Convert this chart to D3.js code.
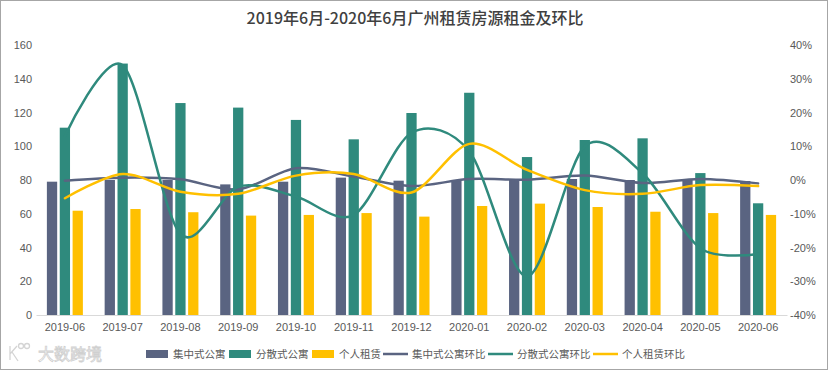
<!DOCTYPE html>
<html>
<head>
<meta charset="utf-8">
<script src="https://cdn.jsdelivr.net/npm/d3@7"></script>
<style>
  body { margin: 0; background: #fff; }
  svg { display: block; font-family: "Noto Sans CJK SC", "Noto Sans", sans-serif; }
</style>
</head>
<body>
<div id="chart"></div>
<script>
// months on the x axis
const months = ["2019-06", "2019-07", "2019-08", "2019-09", "2019-10", "2019-11", "2019-12",
                "2020-01", "2020-02", "2020-03", "2020-04", "2020-05", "2020-06"];

// rent (bars, left axis)
const jizhong = [79, 80, 80, 77.4, 79, 81.4, 79.6, 79.5, 80, 80.6, 80, 80.2, 79.4];
const fensan  = [111, 149, 125.6, 122.9, 115.6, 104.1, 119.7, 131.7, 93.6, 103.7, 104.7, 84.1, 66.2];
const geren   = [61.8, 62.8, 60.9, 58.9, 59.3, 60.4, 58.3, 64.6, 66, 64, 61.2, 60.4, 59.3];

// month-on-month change, % (lines, right axis)
const jizhongMoM = [-0.2, 0.7, 0.2, -2.8, 3.5, 1, -1.8, 0.3, 0.1, 1.3, -0.9, 0.3, -1];
const fensanMoM  = [13, 34, -16, -2, -4.9, -10.4, 14, 8.5, -28.6, 10, 2, -20.2, -21.9];
const gerenMoM   = [-5.4, 1.8, -3.5, -4.1, 1.3, 1.8, -3.7, 10.7, 3, -3, -4.1, -1.5, -1.8];

const leftTicks = [0, 20, 40, 60, 80, 100, 120, 140, 160];
const rightTicks = [-40, -30, -20, -10, 0, 10, 20, 30, 40];

const barSeries = [
  { name: "集中式公寓", values: jizhong, color: "#5a6481" },
  { name: "分散式公寓", values: fensan, color: "#2f8a7d" },
  { name: "个人租赁", values: geren, color: "#ffc000" }
];
const lineSeries = [
  { name: "集中式公寓环比", values: jizhongMoM, color: "#5a6481" },
  { name: "分散式公寓环比", values: fensanMoM, color: "#2f8a7d" },
  { name: "个人租赁环比", values: gerenMoM, color: "#ffc000" }
];

const width = 830, height = 372;
const margin = { top: 45, right: 43, bottom: 57, left: 36 };

const svg = d3.select("#chart").append("svg")
  .attr("width", width)
  .attr("height", height);

// frame
svg.append("rect")
  .attr("x", 0.5).attr("y", 0.5)
  .attr("width", width - 3).attr("height", height - 3)
  .attr("fill", "#fff")
  .attr("stroke", "#a6a6a6");

// title
svg.append("text")
  .attr("x", 415).attr("y", 24)
  .attr("text-anchor", "middle")
  .attr("font-size", 16)
  .attr("font-weight", 500)
  .attr("fill", "#404040")
  .text("2019年6月-2020年6月广州租赁房源租金及环比");

const x0 = d3.scaleBand()
  .domain(months)
  .range([margin.left, width - margin.right]);

const x1 = d3.scaleBand()
  .domain(barSeries.map(d => d.name))
  .range([-18, 18])
  .paddingInner(0.2);

const yLeft = d3.scaleLinear().domain([0, 160]).range([height - margin.bottom, margin.top]);
const yRight = d3.scaleLinear().domain([-40, 40]).range([height - margin.bottom, margin.top]);

// left axis
const leftAxis = svg.append("g")
  .attr("transform", `translate(${margin.left - 4},0)`)
  .call(d3.axisLeft(yLeft).tickValues(leftTicks).tickSize(0).tickPadding(0));
leftAxis.select(".domain").remove();
leftAxis.selectAll("text")
  .attr("text-anchor", "end")
  .attr("font-size", 11)
  .attr("fill", "#595959");

// right axis
const rightAxis = svg.append("g")
  .attr("transform", `translate(${width - margin.right + 3},0)`)
  .call(d3.axisRight(yRight).tickValues(rightTicks).tickFormat(d => d + "%").tickSize(0).tickPadding(0));
rightAxis.select(".domain").remove();
rightAxis.selectAll("text")
  .attr("font-size", 11)
  .attr("fill", "#595959");

// bottom axis
const bottomAxis = svg.append("g")
  .attr("transform", `translate(0,${height - margin.bottom})`)
  .call(d3.axisBottom(x0).tickSize(0).tickPadding(8));
bottomAxis.select(".domain").attr("stroke", "#d9d9d9");
bottomAxis.selectAll("text")
  .attr("font-size", 11)
  .attr("fill", "#595959");

// bars
barSeries.forEach(s => {
  svg.append("g").selectAll("rect")
    .data(months)
    .join("rect")
    .attr("x", (m, i) => x0(m) + x0.bandwidth() / 2 + x1(s.name))
    .attr("width", x1.bandwidth())
    .attr("y", (m, i) => yLeft(s.values[i]))
    .attr("height", (m, i) => yLeft(0) - yLeft(s.values[i]))
    .attr("fill", s.color);
});

// smoothed lines
const line = d3.line()
  .x((d, i) => x0(months[i]) + x0.bandwidth() / 2)
  .y(d => yRight(d))
  .curve(d3.curveCardinal.tension(0.1));

lineSeries.forEach(s => {
  svg.append("path")
    .datum(s.values)
    .attr("d", line)
    .attr("fill", "none")
    .attr("stroke", s.color)
    .attr("stroke-width", 2.5)
    .attr("stroke-linecap", "round");
});

// legend
const legendItems = [
  { s: barSeries[0], x: 146, type: "bar" },
  { s: barSeries[1], x: 229, type: "bar" },
  { s: barSeries[2], x: 312, type: "bar" },
  { s: lineSeries[0], x: 383, type: "line" },
  { s: lineSeries[1], x: 488, type: "line" },
  { s: lineSeries[2], x: 593, type: "line" }
];
const legendY = 354;
const legend = svg.append("g");
legendItems.forEach(it => {
  if (it.type === "bar") {
    legend.append("rect")
      .attr("x", it.x).attr("y", legendY - 4)
      .attr("width", 22).attr("height", 8)
      .attr("fill", it.s.color);
  } else {
    legend.append("line")
      .attr("x1", it.x).attr("x2", it.x + 25)
      .attr("y1", legendY).attr("y2", legendY)
      .attr("stroke", it.s.color)
      .attr("stroke-width", 2.5);
  }
  legend.append("text")
    .attr("x", it.x + (it.type === "bar" ? 27 : 29))
    .attr("y", legendY)
    .attr("dy", "0.35em")
    .attr("font-size", 10.5)
    .attr("fill", "#595959")
    .text(it.s.name);
});

// watermark
const wm = svg.append("g").attr("fill", "none").attr("stroke", "#d4d4d4").attr("stroke-width", 1.3);
wm.append("path").attr("d", "M10,346 L10,360 M10,354 L17,346 M12,352 L18,361");
wm.append("circle").attr("cx", 21).attr("cy", 346).attr("r", 2.5);
wm.append("circle").attr("cx", 27).attr("cy", 346).attr("r", 2.5);
svg.append("text")
  .attr("x", 38).attr("y", 354)
  .attr("dy", "0.35em")
  .attr("font-size", 16)
  .attr("fill", "#fff")
  .attr("stroke", "#d0d0d0")
  .attr("stroke-width", 0.8)
  .text("大数跨境");
</script>
</body>
</html>
